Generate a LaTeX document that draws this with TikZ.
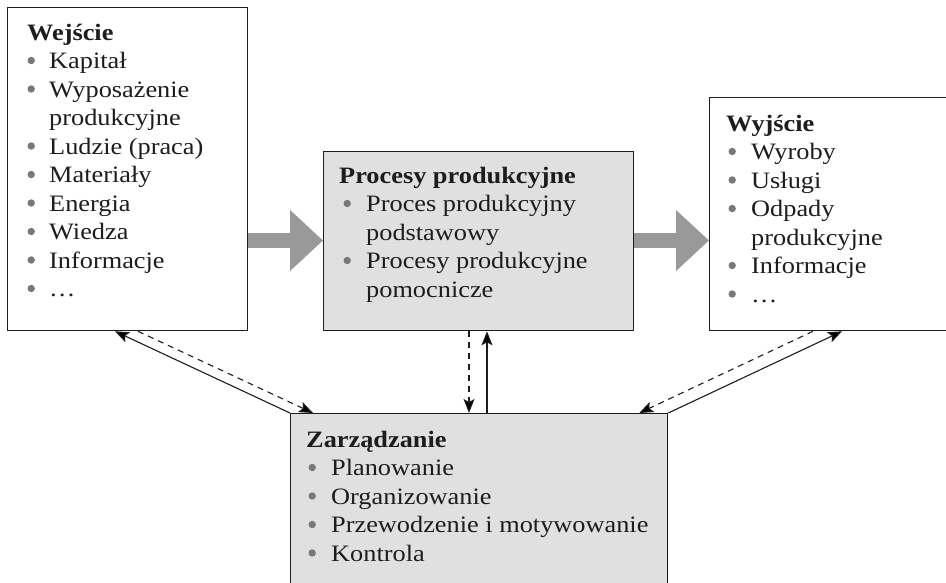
\documentclass[tikz,border=0pt]{standalone}
\usepackage{fontspec}
\setmainfont[FakeStretch=1.12]{Liberation Serif}
\usetikzlibrary{arrows.meta,calc}
\definecolor{boxgray}{RGB}{224,224,224}
\definecolor{arrgray}{RGB}{153,153,153}
\definecolor{bulgray}{RGB}{120,120,120}
\definecolor{ink}{RGB}{30,28,28}
% #1 text indent, #2 bullet centre offset, #3 text
\newcommand\itm[3]{\makebox[#1pt][l]{\tikz[baseline=0pt]{\path (0pt,0pt); \fill[bulgray] (#2pt,8pt) circle[radius=3.7pt];}}#3}
\newcommand\cnt[2]{\hspace*{#1pt}#2}
\tikzset{
  box/.style={draw=ink, line width=1.3pt, rectangle, anchor=north west, inner sep=0pt},
  txt/.style={anchor=base west, inner sep=0pt, align=left, text=ink,
    font=\fontsize{23.5}{28.5}\selectfont},
  bigarrow/.style={draw=arrgray, line width=15pt, -{Triangle[width=59pt,length=33pt]}},
  tip/.style={-{Stealth[length=14pt,width=11pt,inset=3pt]}},
  conn/.style={draw=ink, line width=1.1pt, tip},
  dconn/.style={draw=ink, line width=1.1pt, dash pattern=on 6pt off 5pt, tip},
}
\begin{document}
\begin{tikzpicture}[x=1pt,y=-1pt]
\clip (0,0) rectangle (946,583);
\fill[white] (0,0) rectangle (946,583);
% boxes
\node[box, fill=white, minimum width=240pt, minimum height=323pt] (inp) at (7,7) {};
\node[box, fill=boxgray, minimum width=310pt, minimum height=179pt] (mid) at (323,151) {};
\node[box, fill=white, minimum width=250pt, minimum height=233pt] (out) at (709,97) {};
\node[box, fill=boxgray, minimum width=377pt, minimum height=200pt] (mgmt) at (290,413) {};
% texts (anchored at the baseline of the last line)
\node[txt] (tin) at (27,296.5) {\textbf{Wejście}\\
  \itm{22}{4}{Kapitał}\\
  \itm{22}{4}{Wyposażenie}\\
  \cnt{22}{produkcyjne}\\
  \itm{22}{4}{Ludzie (praca)}\\
  \itm{22}{4}{Materiały}\\
  \itm{22}{4}{Energia}\\
  \itm{22}{4}{Wiedza}\\
  \itm{22}{4}{Informacje}\\
  \itm{22}{4}{…}};
\node[txt] (tmid) at (339,297) {\textbf{Procesy produkcyjne}\\
  \itm{27}{8}{Proces produkcyjny}\\
  \cnt{27}{podstawowy}\\
  \itm{27}{8}{Procesy produkcyjne}\\
  \cnt{27}{pomocnicze}};
\node[txt] (tout) at (726,302) {\textbf{Wyjście}\\
  \itm{25}{6}{Wyroby}\\
  \itm{25}{6}{Usługi}\\
  \itm{25}{6}{Odpady}\\
  \cnt{25}{produkcyjne}\\
  \itm{25}{6}{Informacje}\\
  \itm{25}{6}{…}};
\node[txt] (tmgmt) at (306,561) {\textbf{Zarządzanie}\\
  \itm{25}{6}{Planowanie}\\
  \itm{25}{6}{Organizowanie}\\
  \itm{25}{6}{Przewodzenie i motywowanie}\\
  \itm{25}{6}{Kontrola}};
% big arrows
\coordinate (ya) at (0,240.5);
\draw[bigarrow] (inp.east |- ya) -- (mid.west |- ya);
\draw[bigarrow] (mid.east |- ya) -- (out.west |- ya);
% connectors
\draw[conn] (mgmt.north west) -- ($(inp.south west)+(108,0)$);
\draw[dconn] ($(inp.south west)+(131,0)$) -- ($(mgmt.north west)+(23,0)$);
\draw[dconn] ($(mid.south west)+(146,0)$) -- ($(mgmt.north west)+(179,0)$);
\draw[conn] ($(mgmt.north west)+(197,0)$) -- ($(mid.south west)+(164,0)$);
\draw[dconn] ($(out.south west)+(104,0)$) -- ($(mgmt.north east)+(-29,0)$);
\draw[conn] (mgmt.north east) -- ($(out.south west)+(133,0)$);
\end{tikzpicture}
\end{document}
